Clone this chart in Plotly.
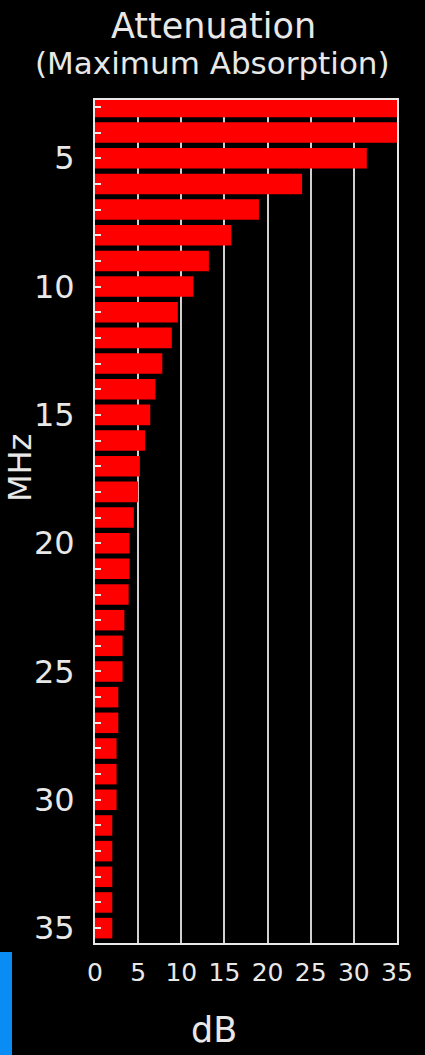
import plotly.graph_objects as go

# frequency (MHz) and attenuation (dB); first two bars run past the 35 dB edge
mhz = list(range(3, 36))
db = [40, 36, 31.5, 24.0, 19.0, 15.8, 13.2, 11.4, 9.6, 8.9,
      7.8, 7.0, 6.4, 5.8, 5.2, 5.0, 4.5, 4.0, 4.0, 3.9,
      3.4, 3.2, 3.2, 2.7, 2.7, 2.5, 2.5, 2.5, 2.0, 2.0,
      2.0, 2.0, 2.0]

x_ticks = [0, 5, 10, 15, 20, 25, 30, 35]
y_ticks = [5, 10, 15, 20, 25, 30, 35]

FONT = "DejaVu Sans"
FG = "#e8e8e8"

fig = go.Figure(go.Bar(
    x=db,
    y=mhz,
    orientation='h',
    width=0.8,
    marker=dict(color='#ff0000', line=dict(width=0)),
    hovertemplate="%{y} MHz: %{x} dB<extra></extra>"
))

fig.update_layout(
    width=425,
    height=1055,
    paper_bgcolor='black',
    plot_bgcolor='black',
    margin=dict(l=95, r=28, t=100, b=112),
    showlegend=False,
    font=dict(family=FONT, color=FG),
    xaxis=dict(
        range=[0, 35],
        tickvals=x_ticks,
        ticks='',
        showgrid=True,
        gridcolor='#d0d0d0',
        gridwidth=2,
        showline=True,
        linecolor=FG,
        linewidth=2,
        mirror=True,
        zeroline=False,
        tickfont=dict(size=25, color=FG),
        ticklabelstandoff=6,
    ),
    yaxis=dict(
        range=[35.58, 2.73],
        tickvals=y_ticks,
        ticks='inside',
        ticklen=6,
        tickwidth=2,
        tickcolor=FG,
        minor=dict(dtick=1, tick0=0, ticks='inside', ticklen=6,
                   tickwidth=2, tickcolor=FG, showgrid=False),
        showgrid=False,
        showline=True,
        linecolor=FG,
        linewidth=2,
        mirror=True,
        zeroline=False,
        tickfont=dict(size=32, color=FG),
        ticklabelstandoff=12,
    ),
    annotations=[
        dict(text="Attenuation", x=0.392, y=1.088, xref='paper', yref='paper',
             showarrow=False, xanchor='center', yanchor='middle',
             font=dict(size=35, color=FG, family=FONT)),
        dict(text="(Maximum Absorption)", x=0.39, y=1.044, xref='paper', yref='paper',
             showarrow=False, xanchor='center', yanchor='middle',
             font=dict(size=31, color=FG, family=FONT)),
        dict(text="MHz", x=-0.248, y=0.5635, xref='paper', yref='paper',
             showarrow=False, textangle=-90, xanchor='center', yanchor='middle',
             font=dict(size=32, color=FG, family=FONT)),
        dict(text="dB", x=0.394, y=-0.103, xref='paper', yref='paper',
             showarrow=False, xanchor='center', yanchor='middle',
             font=dict(size=35, color=FG, family=FONT)),
    ],
    shapes=[
        dict(type='rect', xref='paper', yref='paper',
             x0=-0.3146, x1=-0.2748, y0=-0.0107, y1=-0.14,
             fillcolor='#0a8cf5', line=dict(width=0), layer='above'),
    ],
)

# drop the page's default body margin so the figure fills the window
fig.write_html("out.html",
               config={'displayModeBar': False},
               post_script="document.body.style.margin='0';"
                           "document.body.style.background='black';")
